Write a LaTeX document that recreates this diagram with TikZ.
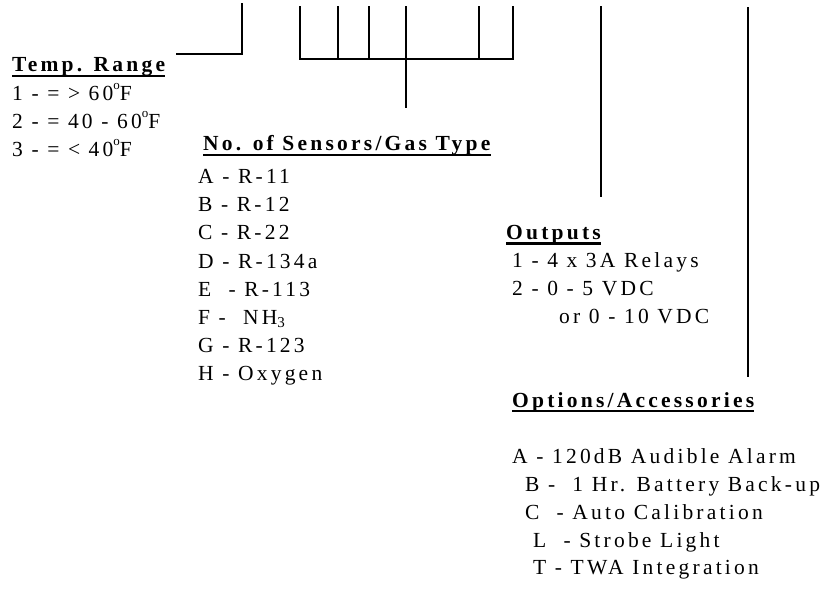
\documentclass[tikz,border=0pt]{standalone}
\usepackage{fontspec}
\setmainfont{Liberation Serif}[LetterSpace=15]
\newcommand{\degsym}{\raisebox{0.5em}{\fontsize{13}{13}\selectfont o}}

\begin{document}
\begin{tikzpicture}[x=1pt, y=-1pt,
  every node/.style={font=\fontsize{21.5}{28}\selectfont, inner sep=0pt, anchor=base west},
  hdr/.style={font=\fontsize{21.5}{28}\selectfont\bfseries},
  lead/.style={line width=2.6pt},
  uline/.style={line width=2.2pt}
]
\useasboundingbox (0,0) rectangle (824,592);
% code lines from the model number
\coordinate (tempTop) at (242,3);
\coordinate (tempKnee) at (242,54);
\coordinate (tempEnd) at (176,54);
\draw[lead] (tempTop) -- (tempKnee) -- (tempEnd);
\coordinate (brTL) at (300,6);
\coordinate (brBL) at (300,59);
\coordinate (brBR) at (513,59);
\coordinate (brTR) at (513,6);
\draw[lead] (brTL) -- (brBL) -- (brBR) -- (brTR);
\foreach \x in {338,369,479}
  \draw[lead] (\x,6) -- (\x,59);
\coordinate (stemTop) at (406,6);
\coordinate (stemEnd) at (406,108);
\draw[lead] (stemTop) -- (stemEnd);
\coordinate (outTop) at (601,6);
\coordinate (outEnd) at (601,197);
\draw[lead] (outTop) -- (outEnd);
\coordinate (optTop) at (748,7);
\coordinate (optEnd) at (748,377);
\draw[lead] (optTop) -- (optEnd);
% temperature range
\node[hdr] (hTemp) at (12,71.7) {Temp. Range};
\draw[uline] ([yshift=-4pt]hTemp.base west) -- ([yshift=-4pt]hTemp.base east);
\node (temp1) at (12,100) {1 - = > 60\degsym F};
\node (temp2) at (12,128) {2 - = 40 - 60\degsym F};
\node (temp3) at (12,156) {3 - = < 40\degsym F};
% sensors / gas type
\node[hdr] (hSens) at (203,150.7) {No. of Sensors/Gas Type};
\draw[uline] ([yshift=-4pt]hSens.base west) -- ([yshift=-4pt]hSens.base east);
\node (gasA) at (198,183.5) {A - R-11};
\node (gasB) at (198,211.7) {B - R-12};
\node (gasC) at (198,239.9) {C - R-22};
\node (gasD) at (198,268.1) {D - R-134a};
\node (gasE) at (198,296.3) {E ~- R-113};
\node (gasF) at (198,324.5) {F - ~NH\textsubscript{3}};
\node (gasG) at (198,352.7) {G - R-123};
\node (gasH) at (198,380.9) {H - Oxygen};
% outputs
\node[hdr] (hOut) at (506,239.5) {Outputs};
\draw[uline] ([yshift=-4pt]hOut.base west) -- ([yshift=-4pt]hOut.base east);
\node (out1) at (512,267) {1 - 4 x 3A Relays};
\node (out2) at (512,295) {2 - 0 - 5 VDC};
\node (out2b) at (559,323) {or 0 - 10 VDC};
% options / accessories
\node[hdr] (hOpt) at (512,407) {Options/Accessories};
\draw[uline] ([yshift=-4pt]hOpt.base west) -- ([yshift=-4pt]hOpt.base east);
\node (optA) at (512,463) {A - 120dB Audible Alarm};
\node (optB) at (525,491) {B - ~1 Hr. Battery Back-up};
\node (optC) at (525,519) {C ~- Auto Calibration};
\node (optL) at (533,547) {L ~- Strobe Light};
\node (optT) at (533,574) {T - TWA Integration};
\end{tikzpicture}
\end{document}
